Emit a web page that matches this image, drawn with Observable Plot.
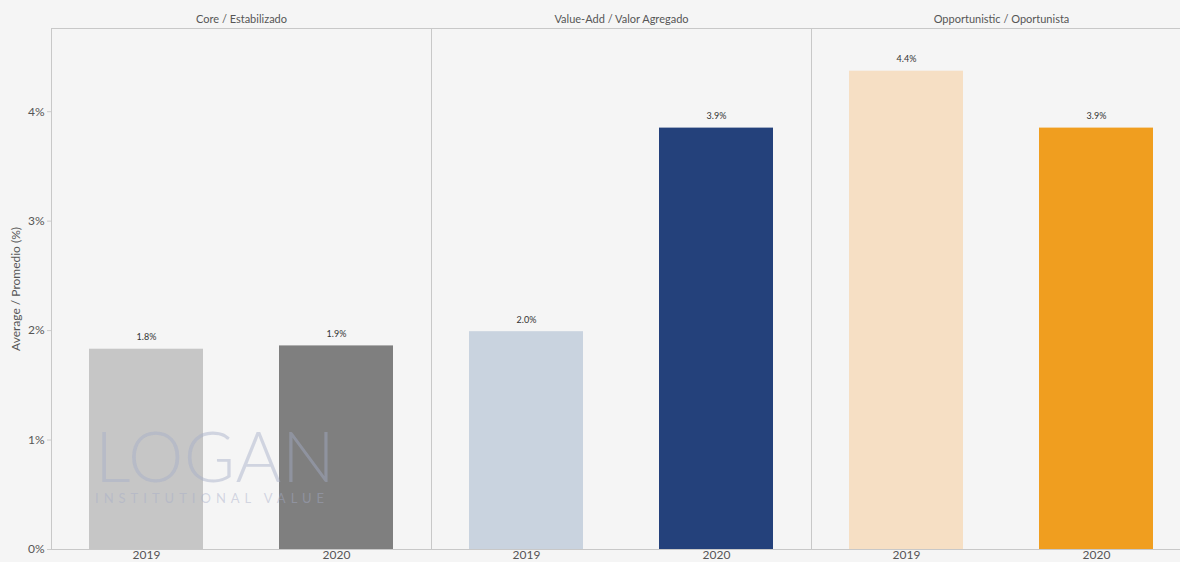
<!DOCTYPE html>
<html>
<head>
<meta charset="utf-8">
<script src="https://cdn.jsdelivr.net/npm/d3@7"></script>
<script src="https://cdn.jsdelivr.net/npm/@observablehq/plot@0.6"></script>
<style>
  html, body { margin: 0; padding: 0; background: #f5f5f5; overflow: hidden; }
  #wrap { position: relative; width: 1180px; height: 562px; overflow: hidden; }
  #chart svg { max-width: none !important; }
  #wm { position: absolute; left: 95px; top: 424px; pointer-events: none; font-family: Lato, "Open Sans", sans-serif; color: rgba(165,172,200,0.45); white-space: nowrap; }
  #wm .big { font-size: 70px; font-weight: 300; letter-spacing: 0.5px; line-height: 62px; height: 62px; }
  #wm .small { font-size: 13px; font-weight: 400; letter-spacing: 5px; line-height: 14px; margin-top: 5px; }
</style>
</head>
<body>
<div id="wrap"><div id="chart"></div><div id="wm"><div class="big">LOGAN</div><div class="small">INSTITUTIONAL VALUE</div></div></div>
<script>
const panelNames = ["Core / Estabilizado", "Value-Add / Valor Agregado", "Opportunistic / Oportunista"];
const panels = ["Core / Estabilizado", "Core / Estabilizado", "Value-Add / Valor Agregado", "Value-Add / Valor Agregado", "Opportunistic / Oportunista", "Opportunistic / Oportunista"];
const years = ["2019", "2020", "2019", "2020", "2019", "2020"];
const values = [1.83, 1.86, 1.99, 3.85, 4.37, 3.85];
const labels = ["1.8%", "1.9%", "2.0%", "3.9%", "4.4%", "3.9%"];
const colors = ["#c6c6c6", "#7f7f7f", "#c9d3df", "#24417b", "#f6dfc4", "#f09e1f"];
const yTicks = [0, 1, 2, 3, 4];

const data = values.map((v, i) => ({panel: panels[i], year: years[i], value: v, label: labels[i], color: colors[i]}));

const chart = Plot.plot({
  width: 1191,
  height: 562,
  marginLeft: 50,
  marginRight: 0,
  marginTop: 28,
  marginBottom: 13,
  style: {background: "#f5f5f5", fontFamily: "Lato, 'Open Sans', sans-serif", color: "#555", maxWidth: "none"},
  fx: {domain: panelNames, padding: 0, label: null},
  x: {domain: ["2019", "2020"], paddingInner: 0.4, paddingOuter: 0.2, label: null},
  y: {domain: [0, 4.76], label: null},
  color: {type: "identity"},
  marks: [
    Plot.frame({stroke: "#c8c8c8"}),
    Plot.barY(data, {fx: "panel", x: "year", y: "value", fill: "color"}),
    Plot.text(data, {fx: "panel", x: "year", y: "value", text: "label", dy: -12, fontSize: 9, fill: "#333"}),
    Plot.axisFx({anchor: "top", tickSize: 0, tickPadding: 6, fontSize: 11, label: null}),
    Plot.axisX({anchor: "bottom", tickSize: 0, tickPadding: 1, fontSize: 12, label: null, fill: "#555"}),
    Plot.axisY({anchor: "left", ticks: yTicks, tickFormat: d => d + "%", tickSize: 4, tickPadding: 3, stroke: "#ccc", fontSize: 12,
      label: "Average / Promedio (%)", labelAnchor: "center", labelArrow: "none", labelOffset: 40})
  ]
});
chart.style.maxWidth = "none";
document.getElementById("chart").appendChild(chart);
</script>
</body>
</html>
